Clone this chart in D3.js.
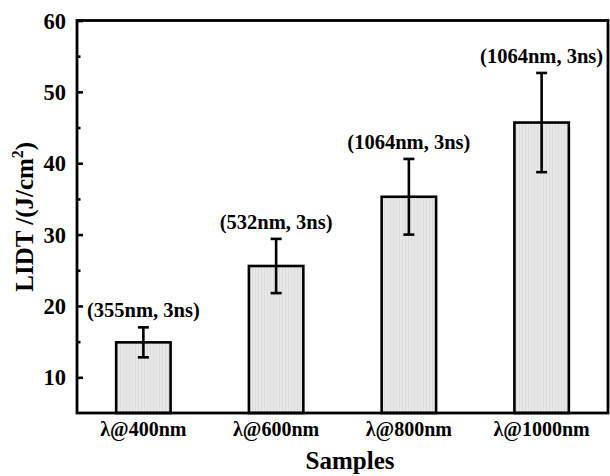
<!DOCTYPE html>
<html><head><meta charset="utf-8">
<script src="https://cdn.jsdelivr.net/npm/d3@7"></script>
<style>body{margin:0;background:#fff}svg{display:block}</style>
</head><body>
<svg id="c" width="610" height="476"></svg>
<script>
const categories = ["λ@400nm","λ@600nm","λ@800nm","λ@1000nm"];
const values = [14.9, 25.6, 35.3, 45.7];
const errors = [2.1, 3.8, 5.3, 6.95];
const annotations = ["(355nm, 3ns)","(532nm, 3ns)","(1064nm, 3ns)","(1064nm, 3ns)"];
const yTicks = [10,20,30,40,50,60];
const yMinorTicks = [15,25,35,45,55];

const W=610,H=476;
const m={left:77,right:2,top:20.5,bottom:63};
const svg=d3.select("#c");
const font="'Liberation Serif','Times New Roman',serif";

const defs=svg.append("defs");
const pat=defs.append("pattern").attr("id","stripe").attr("patternUnits","userSpaceOnUse").attr("width",3).attr("height",4);
pat.append("rect").attr("width",3).attr("height",4).attr("fill","#e8e8e8");
pat.append("rect").attr("width",1).attr("height",4).attr("fill","#dcdcdc");

const x=d3.scaleBand().domain(categories).range([m.left,W-m.right]).paddingInner(0.59).paddingOuter(0.295);
const y=d3.scaleLinear().domain([5,60]).range([H-m.bottom,m.top]);

const g=svg.append("g");
g.selectAll("rect.bar").data(categories).enter().append("rect")
 .attr("x",d=>x(d)).attr("width",x.bandwidth())
 .attr("y",(d,i)=>y(values[i])).attr("height",(d,i)=>y(5)-y(values[i]))
 .attr("fill","url(#stripe)").attr("stroke","#000").attr("stroke-width",2.6);

const cx=d=>x(d)+x.bandwidth()/2;
const eg=g.selectAll("g.err").data(categories).enter().append("g");
eg.append("line").attr("x1",cx).attr("x2",cx).attr("y1",(d,i)=>y(values[i]+errors[i])).attr("y2",(d,i)=>y(values[i]-errors[i])).attr("stroke","#000").attr("stroke-width",2.6);
eg.append("line").attr("x1",d=>cx(d)-5.5).attr("x2",d=>cx(d)+5.5).attr("y1",(d,i)=>y(values[i]+errors[i])).attr("y2",(d,i)=>y(values[i]+errors[i])).attr("stroke","#000").attr("stroke-width",2.6);
eg.append("line").attr("x1",d=>cx(d)-5.5).attr("x2",d=>cx(d)+5.5).attr("y1",(d,i)=>y(values[i]-errors[i])).attr("y2",(d,i)=>y(values[i]-errors[i])).attr("stroke","#000").attr("stroke-width",2.6);

g.selectAll("text.ann").data(categories).enter().append("text")
 .attr("x",cx).attr("y",(d,i)=>y(values[i]+errors[i])-10)
 .attr("text-anchor","middle").attr("font-family",font).attr("font-weight","bold").attr("font-size",20.5)
 .text((d,i)=>annotations[i]);

svg.append("rect").attr("x",m.left).attr("y",m.top).attr("width",W-m.right-m.left).attr("height",H-m.bottom-m.top)
 .attr("fill","none").attr("stroke","#000").attr("stroke-width",2.8);

const ya=svg.append("g").attr("transform",`translate(${m.left},0)`)
 .call(d3.axisRight(y).tickValues(yTicks).tickSize(6).tickFormat(d3.format("d")));
ya.select(".domain").remove();
ya.selectAll(".tick line").attr("stroke-width",2.6);
ya.selectAll(".tick text").attr("x",-11).attr("dy","0.34em").attr("text-anchor","end").attr("font-family",font).attr("font-weight","bold").attr("font-size",22.5).attr("fill","#000");
const ym=svg.append("g").attr("transform",`translate(${m.left},0)`)
 .call(d3.axisRight(y).tickValues(yMinorTicks).tickSize(3.5).tickFormat(""));
ym.select(".domain").remove();
ym.selectAll(".tick line").attr("stroke-width",2.6);

const xa=svg.append("g").attr("transform",`translate(0,${H-m.bottom})`)
 .call(d3.axisBottom(x).tickSize(0).tickPadding(0));
xa.select(".domain").remove();
xa.selectAll(".tick text").attr("dy",0).attr("y",23).attr("font-family",font).attr("font-weight","bold").attr("font-size",20).attr("fill","#000");

svg.append("text").attr("x",350).attr("y",469).attr("text-anchor","middle").attr("font-family",font).attr("font-weight","bold").attr("font-size",25).text("Samples");
const yt=svg.append("text").attr("transform",`translate(33,${(m.top+H-m.bottom)/2}) rotate(-90)`).attr("text-anchor","middle").attr("font-family",font).attr("font-weight","bold").attr("font-size",25);
yt.append("tspan").text("LIDT /(J/cm");
yt.append("tspan").attr("font-size",16).attr("dy",-10).text("2");
yt.append("tspan").attr("dy",10).text(")");
</script>
</body></html>
